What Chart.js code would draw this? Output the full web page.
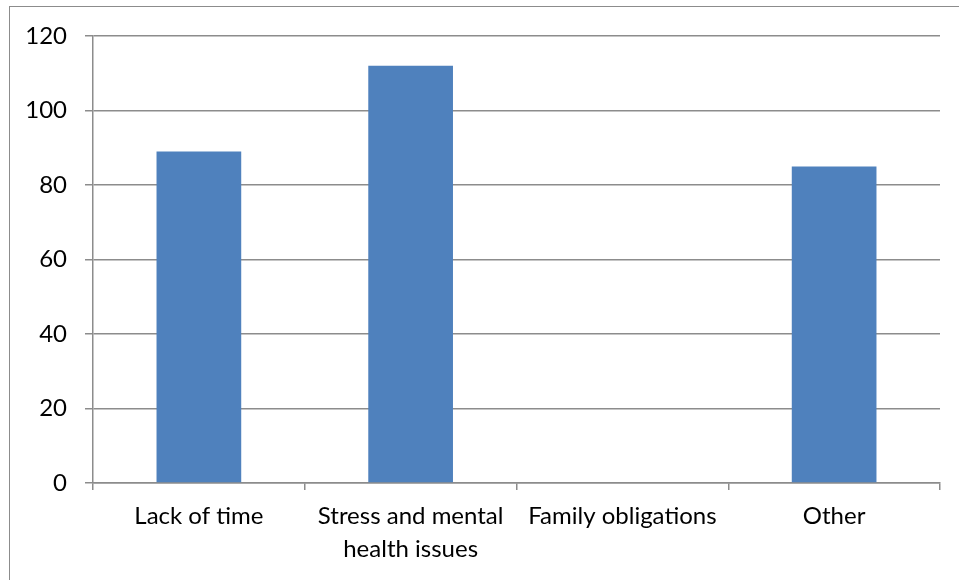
<!DOCTYPE html>
<html>
<head>
<meta charset="utf-8">
<script src="https://cdn.jsdelivr.net/npm/chart.js@4"></script>
<style>
    html, body { margin: 0; padding: 0; background: #fff; }
    #wrap { position: relative; width: 959px; height: 580px; overflow: hidden; }
    #frame {
        position: absolute; left: 9px; top: 6px; width: 1000px; height: 1000px;
        border-left: 1.5px solid #8c8c8c; border-top: 1.5px solid #8c8c8c;
    }
    canvas { position: absolute; left: 0; top: 0; }
</style>
</head>
<body>
<div id="wrap">
    <div id="frame"></div>
    <canvas id="reasonsChart" width="959" height="580"></canvas>
</div>
<script>
'use strict';

const categories = ['Lack of time', ['Stress and mental', 'health issues'], 'Family obligations', 'Other'];
const responses = [89, 112, 0, 85];
const yTicks = [0, 20, 40, 60, 80, 100, 120];

const gridColor = '#8c8c8c';
const labelFont = { family: 'Lato, "Open Sans", sans-serif', size: 24, lineHeight: 1.38 };

const ctx = document.getElementById('reasonsChart').getContext('2d');

const reasonsChart = new Chart(ctx, {
    type: 'bar',
    data: {
        labels: categories,
        datasets: [{
            label: 'Responses',
            data: responses,
            backgroundColor: '#4f81bd',
            borderWidth: 0,
            categoryPercentage: 1,
            barPercentage: 0.4
        }]
    },
    options: {
        responsive: false,
        animation: false,
        layout: {
            padding: { top: 36, right: 19, left: 0, bottom: 0 }
        },
        plugins: {
            legend: false,
            tooltip: { enabled: false }
        },
        scales: {
            x: {
                offset: true,
                grid: {
                    offset: true,
                    drawOnChartArea: false,
                    drawTicks: true,
                    tickLength: 7,
                    color: gridColor,
                    lineWidth: 1.5
                },
                border: { color: gridColor, width: 1.5 },
                ticks: {
                    color: '#000',
                    font: labelFont,
                    padding: 10,
                    maxRotation: 0,
                    autoSkip: false
                },
                afterFit: function (scale) {
                    scale.height = 97;
                }
            },
            y: {
                min: 0,
                max: 120,
                afterBuildTicks: function (scale) {
                    scale.ticks = yTicks.map(v => ({ value: v }));
                },
                grid: {
                    color: gridColor,
                    lineWidth: 1.5,
                    drawTicks: true,
                    tickLength: 8
                },
                border: { color: gridColor, width: 1.5 },
                ticks: {
                    color: '#000',
                    font: labelFont,
                    padding: 18
                },
                afterFit: function (scale) {
                    scale.width = 93;
                }
            }
        }
    }
});
</script>
</body>
</html>
